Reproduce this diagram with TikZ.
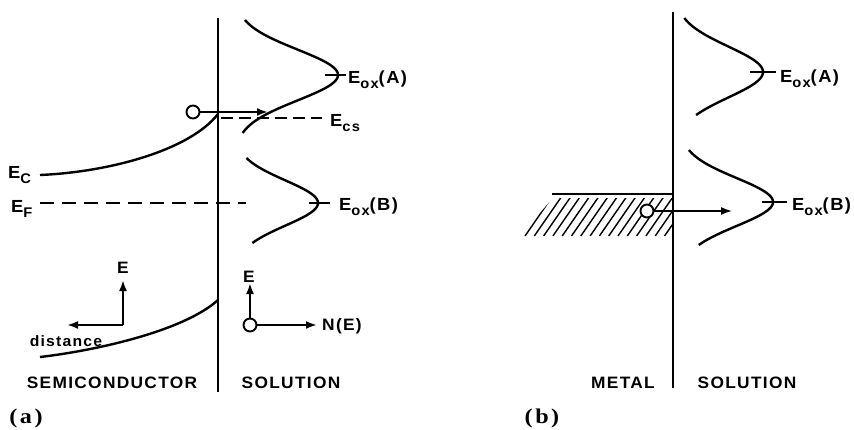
\documentclass[tikz,border=0pt]{standalone}
\usepackage{fontspec}
\setmainfont{Liberation Sans}
\newfontfamily\labfont[FakeStretch=1.05,LetterSpace=8,BoldFont={Liberation Sans Bold}]{Liberation Sans}
\newfontfamily\figfont[FakeStretch=1.15,LetterSpace=12]{Liberation Serif}
\usetikzlibrary{arrows.meta}
\newcommand\lowsub[1]{\raisebox{-0.3em}{\fontsize{14}{14}\selectfont #1}}
\begin{document}
\begin{tikzpicture}[x=1pt,y=-1pt,
  bold/.style={line width=2.4pt},
  thinl/.style={line width=1.6pt},
  lab/.style={font=\labfont\bfseries\fontsize{16.5}{16.5}\selectfont, inner sep=0pt},
  elab/.style={font=\labfont\bfseries\fontsize{17.5}{17.5}\selectfont, inner sep=0pt, anchor=base west},
  tip/.style={-{Latex[length=11pt,width=8pt]}},
  hole/.style={circle, draw, line width=1.9pt, fill=white, minimum size=13pt, inner sep=0pt},
  fig/.style={font=\figfont\bfseries\fontsize{21}{21}\selectfont, inner sep=0pt},
  dashE/.style={line width=1.9pt, dash pattern=on 14pt off 8pt}]
\useasboundingbox (0,0) rectangle (854,429);

% ================= panel (a) =================
\coordinate (aTop) at (218,18);
\coordinate (aBot) at (218,392);
\draw[bold] (aTop) -- (aBot);

% oxidant distributions
\draw[bold] plot[domain=20:133, samples=80, variable=\t]
  ({235+103*exp(-1*(((\t-75)/36)^2))}, {\t});
\draw[bold] plot[domain=158:243, samples=80, variable=\t]
  ({235+83*exp(-1*(((\t-203)/32)^2))}, {\t});
\coordinate (tA1) at (325,75); \coordinate (tA2) at (346,75);
\draw[bold] (tA1) -- (tA2);
\coordinate (tB1) at (309,203); \coordinate (tB2) at (330,203);
\draw[bold] (tB1) -- (tB2);
\node[elab] (eoxA) at (348,83) {E\lowsub{ox}(A)};
\node[elab] (eoxB) at (339,210) {E\lowsub{ox}(B)};

% band edges
\coordinate (ecL) at (40,175); \coordinate (ecR) at (218,114);
\draw[bold] (ecL) .. controls (110,172) and (190,150) .. (ecR);
\coordinate (evL) at (40,357); \coordinate (evR) at (218,300);
\draw[bold] (evL) .. controls (100,350) and (185,330) .. (evR);
\node[elab] (ec) at (8,178) {E\lowsub{C}};

% Fermi level
\coordinate (efL) at (40,203); \coordinate (efR) at (246,203);
\draw[dashE] (efL) -- (efR);
\node[elab] (ef) at (11,212) {E\lowsub{F}};

% surface conduction band edge
\coordinate (ecsL) at (221,118); \coordinate (ecsR) at (322,118);
\draw[line width=1.9pt, dash pattern=on 12pt off 6pt] (ecsL) -- (ecsR);
\node[elab] (ecs) at (330,126) {E\lowsub{cs}};

% electron transfer
\node[hole] (hA) at (193,112) {};
\coordinate (hAend) at (268,112);
\draw[bold, tip] (hA.east) -- (hAend);

% axes (distance / E)
\coordinate (ax0) at (123,325);
\coordinate (axE) at (123,280);
\coordinate (axD) at (67,325);
\draw[bold, tip] (ax0) -- (axE);
\draw[bold, tip] (ax0) -- (axD);
\node[lab] (lE1) at (123,268) {E};
\node[lab, font=\labfont\bfseries\fontsize{15}{15}\selectfont] (ldist) at (66,341) {distance};

% axes (N(E) / E)
\node[hole] (hN) at (250,325) {};
\coordinate (nE) at (250,283);
\coordinate (nN) at (317,325);
\draw[bold, tip] (hN.north) -- (nE);
\draw[bold, tip] (hN.east) -- (nN);
\node[lab] (lE2) at (249,277) {E};
\node[lab, anchor=west] (lNE) at (322,326) {N(E)};

\node[lab] (semi) at (112,383) {SEMICONDUCTOR};
\node[lab] (solA) at (291,383) {SOLUTION};
\node[fig] (figa) at (26,418) {(a)};

% ================= panel (b) =================
\coordinate (bTop) at (673,12);
\coordinate (bBot) at (673,388);
\draw[bold] (bTop) -- (bBot);

\draw[bold] plot[domain=18:115, samples=80, variable=\t]
  ({675+88*exp(-1*(((\t-72)/36)^2))}, {\t});
\draw[bold] plot[domain=150:245, samples=80, variable=\t]
  ({680+93*exp(-1*(((\t-202)/34)^2))}, {\t});
\coordinate (tbA1) at (750,72); \coordinate (tbA2) at (776,72);
\draw[bold] (tbA1) -- (tbA2);
\coordinate (tbB1) at (762,202); \coordinate (tbB2) at (787,202);
\draw[bold] (tbB1) -- (tbB2);
\node[elab] (beoxA) at (780,82) {E\lowsub{ox}(A)};
\node[elab] (beoxB) at (792,210) {E\lowsub{ox}(B)};

% metal Fermi level and filled states
\coordinate (mL) at (552,194); \coordinate (mR) at (673,194);
\draw[line width=2.8pt] (mL) -- (mR);
\begin{scope}
  \clip (553,198) -- (673,198) -- (673,236) -- (520,236) -- cycle;
  \foreach \i in {0,...,16}
    \draw[line width=1.4pt] ({525+9.3*\i},236) -- ({552+9.3*\i},197);
\end{scope}
\node[hole] (hB) at (647,211) {};
\coordinate (hBend) at (732,211);
\draw[thinl, tip] (hB.east) -- (hBend);

\node[lab] (metal) at (623,383) {METAL};
\node[lab] (solB) at (747,383) {SOLUTION};
\node[fig] (figb) at (542,418) {(b)};
\end{tikzpicture}
\end{document}
